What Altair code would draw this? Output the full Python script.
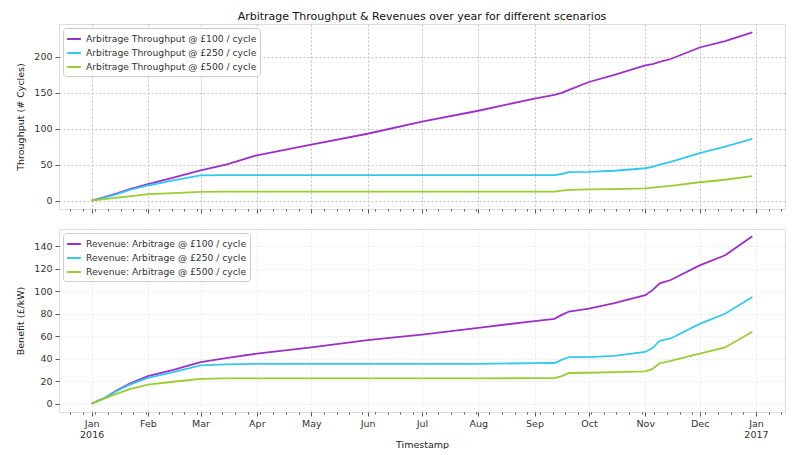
import altair as alt
import pandas as pd

dates = ["2016-01-01", "2016-01-08", "2016-01-15", "2016-01-22", "2016-02-01",
         "2016-02-15", "2016-03-01", "2016-03-15", "2016-04-01", "2016-05-01",
         "2016-06-01", "2016-07-01", "2016-08-01", "2016-09-01", "2016-09-12",
         "2016-09-16", "2016-09-20", "2016-10-01", "2016-10-15", "2016-11-01",
         "2016-11-05", "2016-11-09", "2016-11-15", "2016-12-01", "2016-12-15",
         "2016-12-30"]

thr_100 = [0, 5, 10, 16, 23, 32, 42, 50, 63, 78, 93, 110, 125, 142, 147, 150, 154,
           165, 175, 188, 190, 193, 197, 213, 222, 234]
thr_250 = [0, 4, 9, 15, 21, 28, 35, 35.5, 35.5, 35.5, 35.5, 35.5, 35.5, 35.5, 35.5,
           37, 39.5, 40, 41.5, 45, 47, 50, 54, 66, 75, 86]
thr_500 = [0, 2, 4, 6, 9, 10.5, 12, 12.5, 12.5, 12.5, 12.5, 12.5, 12.5, 12.5, 12.5,
           14, 15, 15.5, 16, 17, 18, 19, 20.5, 25.5, 29, 34]

rev_100 = [0, 5, 12, 18, 24.5, 30, 37, 40.5, 44.5, 50, 56.5, 61.5, 67.5, 73.5, 75.5,
           79, 82, 84.5, 89.5, 96.5, 101, 107, 110, 123, 132, 149]
rev_250 = [0, 5, 11.5, 17, 23, 28, 34, 35, 35.5, 35.5, 35.5, 35.5, 35.5, 36, 36.2,
           39, 41.5, 41.5, 42.5, 46, 49.5, 56, 58, 71, 80, 95]
rev_500 = [0, 4.5, 9, 13, 17, 19.5, 22, 22.5, 22.5, 22.5, 22.5, 22.5, 22.5, 22.7, 22.8,
           24.6, 27.3, 27.5, 28, 28.8, 31, 36, 38, 44.5, 50, 64]

thr_names = ["Arbitrage Throughput @ £100 / cycle",
             "Arbitrage Throughput @ £250 / cycle",
             "Arbitrage Throughput @ £500 / cycle"]
rev_names = ["Revenue: Arbitrage @ £100 / cycle",
             "Revenue: Arbitrage @ £250 / cycle",
             "Revenue: Arbitrage @ £500 / cycle"]
colors = ["#9b30c8", "#33c8f0", "#9acd32"]

thr_ticks = [0, 50, 100, 150, 200]
rev_ticks = [0, 20, 40, 60, 80, 100, 120, 140]


def long_df(names, series):
    rows = []
    for n, vals in zip(names, series):
        for d, v in zip(dates, vals):
            rows.append({"date": pd.Timestamp(d), "value": v, "series": n})
    return pd.DataFrame(rows)


df_thr = long_df(thr_names, [thr_100, thr_250, thr_500])
df_rev = long_df(rev_names, [rev_100, rev_250, rev_500])

month_ticks = [alt.DateTime(year=t.year, month=t.month, date=1)
               for t in pd.date_range("2016-01-01", "2017-01-01", freq="MS")]
week_ticks = [alt.DateTime(year=t.year, month=t.month, date=t.day)
              for t in pd.date_range("2015-12-20", "2017-01-15", freq="7D")]

x_domain = [alt.DateTime(year=2015, month=12, date=14),
            alt.DateTime(year=2017, month=1, date=17)]

FONT = "DejaVu Sans"
label_expr = ("month(datum.value) == 0 ? [timeFormat(datum.value, '%b'), "
              "timeFormat(datum.value, '%Y')] : timeFormat(datum.value, '%b')")


def panel(df, names, ydom, yticks, ytitle, grid_color, show_labels, height, title=None):
    x_main = alt.X(
        "date:T",
        scale=alt.Scale(domain=x_domain),
        axis=alt.Axis(values=month_ticks, labels=show_labels, labelExpr=label_expr,
                      title="Timestamp" if show_labels else None,
                      grid=True, gridColor=grid_color, gridDash=[2, 2],
                      gridWidth=0.8, domain=False, tickSize=4, tickColor="#555",
                      labelFont=FONT, labelFontSize=9.5, labelColor="#333",
                      titleFont=FONT, titleFontSize=9.5, titleFontWeight="normal",
                      titleColor="#222", labelPadding=2, titlePadding=0,
                      labelOverlap=False, orient="bottom"),
    )
    y = alt.Y(
        "value:Q",
        scale=alt.Scale(domain=ydom, nice=False, zero=False),
        axis=alt.Axis(values=yticks, title=ytitle, grid=True, gridColor=grid_color,
                      gridDash=[2, 2], gridWidth=0.8, domain=False, tickSize=4,
                      tickColor="#555", labelFont=FONT, labelFontSize=9.5,
                      labelColor="#333", titleFont=FONT, titleFontSize=9.5,
                      titleFontWeight="normal", titleColor="#222",
                      labelPadding=3, titlePadding=8, labelOverlap=False,
                      orient="left"),
    )
    color = alt.Color(
        "series:N",
        scale=alt.Scale(domain=names, range=colors),
        legend=alt.Legend(orient="top-left", title=None, symbolType="stroke",
                          symbolStrokeWidth=2, symbolSize=190, labelFont=FONT,
                          labelFontSize=9.2, labelColor="#333",
                          fillColor="white", strokeColor="#cccccc",
                          padding=3, offset=4, rowPadding=0, cornerRadius=3,
                          labelLimit=300),
    )
    lines = alt.Chart(df).mark_line(strokeWidth=1.8).encode(
        x=x_main, y=y, color=color, order=alt.Order("series:N"))
    minor = alt.Chart(df).mark_point(opacity=0).encode(
        x=alt.X("date:T", axis=alt.Axis(values=week_ticks, labels=False, grid=False,
                                        domain=False, tickSize=2, tickColor="#555",
                                        title=None, orient="bottom")),
        y=alt.Y("value:Q", axis=None),
    )
    props = dict(width=726, height=height)
    if title is not None:
        props["title"] = alt.TitleParams(title, font=FONT, fontSize=11,
                                         fontWeight="normal", color="#111",
                                         anchor="middle", offset=2)
    return alt.layer(lines, minor).resolve_axis(
        x="independent", y="independent").properties(**props)


top = panel(df_thr, thr_names, [-11.7, 245.7], thr_ticks, "Throughput (# Cycles)",
            "#b4b4b4", False, 185,
            title="Arbitrage Throughput & Revenues over year for different scenarios")
bottom = panel(df_rev, rev_names, [-7.4, 155.4], rev_ticks, "Benefit (£/kW)",
               "#e2e2e2", True, 183)

chart = alt.vconcat(top, bottom, spacing=14).resolve_scale(
    color="independent").configure_view(stroke="#666", strokeWidth=1
).configure(background="white", padding={"left": 7, "right": 5, "top": 2, "bottom": 0})

chart.save("out.html", embed_options={"renderer": "svg", "actions": False})
